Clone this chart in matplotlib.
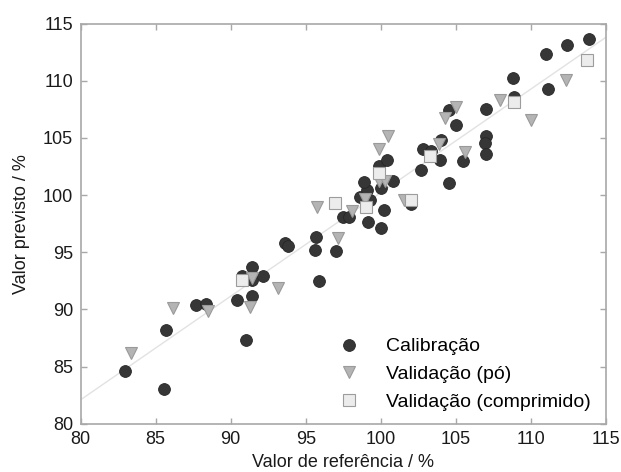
import matplotlib
matplotlib.use("Agg")
import matplotlib.pyplot as plt

plt.rcParams['font.family'] = ['Liberation Sans', 'DejaVu Sans']

cal_x = [82.98, 85.58, 85.67, 87.71, 88.33, 90.4, 91.04, 91.42, 91.42, 90.78,
         91.42, 92.13, 93.6, 93.82, 95.67, 95.6, 95.89, 97.02, 97.47, 97.9,
         99.15, 98.62, 99.3, 99.06, 98.87, 100.04, 100.2, 102.04, 100.0, 100.82,
         99.91, 100.44, 102.71, 102.82, 103.38, 103.95, 104.04, 104.55, 105.49, 105.05,
         104.55, 107.05, 107.05, 106.98, 107.05, 108.89, 108.82, 111.15, 111.0, 112.4,
         113.87]
cal_y = [84.64, 83.0, 88.17, 90.36, 90.48, 90.85, 87.35, 91.14, 93.71, 92.95,
         92.6, 92.89, 95.81, 95.52, 96.3, 95.23, 92.51, 95.08, 98.07, 98.05,
         97.65, 99.87, 99.6, 100.45, 101.12, 97.12, 98.73, 99.23, 100.63, 101.2,
         102.58, 103.07, 102.23, 104.04, 103.83, 103.07, 104.85, 101.06, 102.95, 106.16,
         107.42, 107.54, 105.14, 104.56, 103.6, 108.55, 110.25, 109.29, 112.35, 113.13,
         113.66]

po_x = [83.33, 86.13, 88.51, 91.42, 91.31, 93.16, 95.73, 97.18, 98.11, 98.97,
        99.89, 100.27, 99.89, 100.49, 101.55, 103.88, 104.29, 105.05, 105.6, 107.93,
        110.0, 112.38]
po_y = [86.19, 90.13, 89.83, 92.75, 90.21, 91.84, 98.93, 96.22, 98.64, 99.7,
        101.2, 101.2, 104.06, 105.14, 99.6, 104.45, 106.75, 107.71, 103.77, 108.35,
        106.6, 110.1]

comp_x = [90.78, 96.95, 99.04, 102.0, 99.89, 103.27, 108.87, 113.78]
comp_y = [92.54, 99.34, 98.96, 99.6, 101.94, 103.39, 108.18, 111.79]

line_x = [80, 115]
line_y = [82.1, 113.8]

ticks = [80, 85, 90, 95, 100, 105, 110, 115]

fig = plt.figure(figsize=(6.21, 4.72), dpi=100)
ax = fig.add_axes([0.1300, 0.1023, 0.8454, 0.8475])

ax.plot(line_x, line_y, color='#e2e2e2', lw=1.0, zorder=1)
ax.plot(cal_x, cal_y, 'o', ms=8.5, mfc='#363636', mec='#262626', mew=0.6,
        ls='none', label='Calibração', zorder=3)
ax.plot(po_x, po_y, 'v', ms=8, mfc='#b4b4b4', mec='#9a9a9a', mew=0.8,
        ls='none', label='Validação (pó)', zorder=4)
ax.plot(comp_x, comp_y, 's', ms=8, mfc='#ececec', mec='#9c9c9c', mew=0.8,
        ls='none', label='Validação (comprimido)', zorder=5)

ax.set_xlim(80, 115)
ax.set_ylim(80, 115)
ax.set_xticks(ticks)
ax.set_yticks(ticks)
for s in ax.spines.values():
    s.set_color('#a8a8a8')
    s.set_linewidth(1.2)
ax.tick_params(direction='in', length=4, width=1, color='#a8a8a8',
               top=True, right=True, labelsize=13, labelcolor='#1a1a1a', pad=5.5)
ax.set_xlabel('Valor de referência / %', fontsize=13, color='#1a1a1a', labelpad=4)
ax.set_ylabel('Valor previsto / %', fontsize=13, color='#1a1a1a', labelpad=9)

ax.legend(loc='upper left', frameon=False, fontsize=14, labelspacing=0.52,
          handletextpad=0.9, borderaxespad=0, borderpad=0,
          bbox_to_anchor=(0.474, 0.215))

fig.savefig('out.png', dpi=100)
